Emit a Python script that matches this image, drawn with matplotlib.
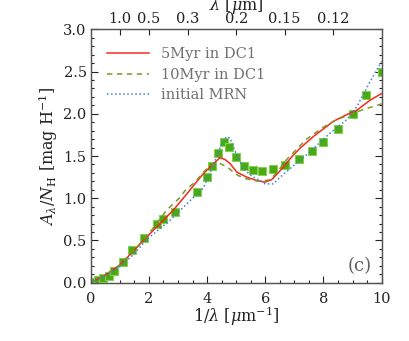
import matplotlib
matplotlib.use("Agg")
import matplotlib.pyplot as plt
from matplotlib.ticker import MultipleLocator

plt.rcParams['font.family'] = ['DejaVu Serif']
plt.rcParams['mathtext.fontset'] = 'dejavuserif'

# observed extinction curve (squares)
obs_x = [0.11, 0.26, 0.43, 0.61, 0.80, 1.10, 1.43, 1.82, 2.27, 2.50, 2.91, 3.64, 3.99,
         4.18, 4.36, 4.57, 4.76, 5.00, 5.26, 5.57, 5.89, 6.25, 6.68, 7.17, 7.59, 8.00,
         8.51, 9.00, 9.48, 10.0]
obs_y = [0.01, 0.03, 0.05, 0.08, 0.14, 0.25, 0.39, 0.53, 0.69, 0.75, 0.84, 1.07, 1.25,
         1.38, 1.53, 1.67, 1.61, 1.49, 1.38, 1.33, 1.32, 1.35, 1.39, 1.46, 1.56, 1.66,
         1.82, 2.00, 2.22, 2.49]

# 5 Myr in DC1
m5_x = [0, 0.5, 1.0, 1.46, 1.92, 2.38, 2.84, 3.30, 3.58, 3.87, 4.16, 4.44, 4.61, 4.79,
        5.02, 5.36, 5.70, 5.99, 6.22, 6.39, 6.62, 6.96, 7.19, 7.65, 8.34, 8.80, 9.14,
        9.60, 10.0]
m5_y = [0, 0.09, 0.21, 0.37, 0.54, 0.70, 0.86, 1.05, 1.17, 1.29, 1.39, 1.48, 1.46, 1.41,
        1.31, 1.25, 1.21, 1.19, 1.22, 1.28, 1.37, 1.51, 1.59, 1.73, 1.91, 1.99, 2.04,
        2.16, 2.24]

# 10 Myr in DC1
m10_x = [0, 0.5, 1.0, 1.5, 2.04, 2.61, 3.07, 3.24, 3.58, 3.93, 4.2, 4.40, 4.73, 4.96,
         5.24, 5.59, 5.88, 6.16, 6.39, 6.74, 7.02, 7.42, 7.99, 8.45, 8.91, 9.37, 9.94, 10.0]
m10_y = [0, 0.09, 0.21, 0.39, 0.60, 0.86, 1.01, 1.09, 1.19, 1.33, 1.40, 1.42, 1.36, 1.29,
         1.24, 1.21, 1.20, 1.22, 1.30, 1.46, 1.56, 1.70, 1.84, 1.93, 1.99, 2.05, 2.11, 2.12]

# initial MRN
mrn_x = [0, 0.5, 1.0, 1.46, 1.92, 2.73, 3.41, 3.87, 4.10, 4.33, 4.50, 4.67, 4.79, 4.90,
         5.07, 5.30, 5.59, 5.88, 5.99, 6.28, 6.51, 6.85, 7.54, 8.22, 8.80, 9.14, 9.60, 10.0]
mrn_y = [0, 0.08, 0.19, 0.33, 0.51, 0.74, 0.97, 1.12, 1.30, 1.49, 1.65, 1.73, 1.71, 1.61,
         1.47, 1.33, 1.25, 1.20, 1.17, 1.17, 1.25, 1.35, 1.55, 1.77, 1.93, 2.08, 2.38, 2.62]

top_lam = [1.0, 0.5, 0.3, 0.2, 0.15, 0.12]
top_labels = ['1.0', '0.5', '0.3', '0.2', '0.15', '0.12']

fig = plt.figure(figsize=(4.09, 3.41), dpi=100)
ax = fig.add_axes([0.222, 0.171, 0.711, 0.743])

ax.plot(obs_x, obs_y, 's', color='#4aaa12', markeredgecolor='#86cf55',
        markeredgewidth=0.8, markersize=5.6, zorder=3, clip_on=True)
ax.plot(m5_x, m5_y, '-', color='#f52a1c', lw=1.1, label='5Myr in DC1', zorder=4)
ax.plot(m10_x, m10_y, '--', color='#7a9a28', lw=1.1, dashes=(3.5, 3), label='10Myr in DC1', zorder=4)
ax.plot(mrn_x, mrn_y, ':', color='#3a82d8', lw=1.1, label='initial MRN', zorder=4)

ax.set_xlim(0, 10)
ax.set_ylim(0, 3.0)
ax.xaxis.set_major_locator(MultipleLocator(2))
ax.xaxis.set_minor_locator(MultipleLocator(0.5))
ax.yaxis.set_major_locator(MultipleLocator(0.5))
ax.yaxis.set_minor_locator(MultipleLocator(0.1))
ax.yaxis.set_major_formatter(plt.FormatStrFormatter('%.1f'))
ax.tick_params(which='both', direction='in', right=True, top=False, labelsize=10.5, colors='#222222')
ax.tick_params(which='major', length=5, width=0.8)
ax.tick_params(which='minor', length=2.5, width=0.8)
ax.tick_params(axis='x', pad=7)
ax.tick_params(axis='y', pad=3)
for s in ax.spines.values():
    s.set_color('#555555')
    s.set_linewidth(0.9)

ax.set_xlabel(r'1/$\lambda$ [$\mu$m$^{-1}$]', fontsize=11.5, labelpad=-1, color='#222222')
ax.set_ylabel(r'$A_\lambda/N_{\rm H}$ [mag H$^{-1}$]', fontsize=11.5, labelpad=2, color='#222222')

top = ax.twiny()
top.set_xlim(0, 10)
top.set_xticks([1.0 / l for l in top_lam])
top.set_xticklabels(top_labels)
top.tick_params(direction='in', length=4, width=0.8, labelsize=10.5, pad=2.5, colors='#222222')
top.set_xlabel(r'$\lambda$ [$\mu$m]', fontsize=11.5, labelpad=-2, color='#222222')
top.xaxis.set_label_coords(0.5, 1.095)
top.xaxis.label.set_va('center')
for s in top.spines.values():
    s.set_color('#555555')
    s.set_linewidth(0.9)

leg = ax.legend(loc='upper left', frameon=False, fontsize=10.5, handlelength=2.9,
                handletextpad=0.8, labelspacing=0.45, borderaxespad=0.3,
                bbox_to_anchor=(0.02, 0.97))
for t in leg.get_texts():
    t.set_color('#707070')

ax.text(9.25, 0.2, '(c)', fontsize=13, color='#606060', ha='center', va='center')

fig.savefig('out.png', dpi=100)
